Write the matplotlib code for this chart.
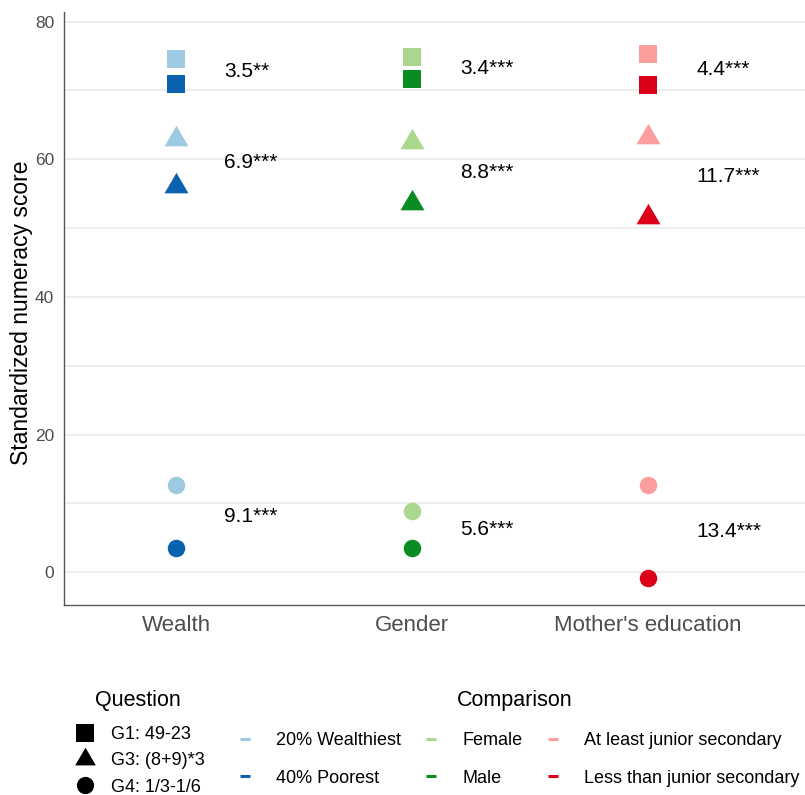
import numpy as np
import matplotlib.pyplot as plt
from matplotlib.lines import Line2D
from matplotlib.path import Path

plt.rcParams['font.family'] = ['Liberation Sans', 'DejaVu Sans']

# categories on the x axis
groups = ["Wealth", "Gender", "Mother's education"]
questions = ["G1: 49-23", "G3: (8+9)*3", "G4: 1/3-1/6"]

# scores per question (G1, G3, G4), advantaged / disadvantaged group
wealth_top = [74.6, 63.0, 12.6]
wealth_bottom = [71.0, 56.1, 3.5]
gender_top = [74.9, 62.5, 8.9]
gender_bottom = [71.6, 53.7, 3.45]
mother_top = [75.3, 63.3, 12.6]
mother_bottom = [70.8, 51.6, -0.85]

# gap labels
wealth_gap = ["3.5**", "6.9***", "9.1***"]
gender_gap = ["3.4***", "8.8***", "5.6***"]
mother_gap = ["4.4***", "11.7***", "13.4***"]

# legend labels
top_labels = ["20% Wealthiest", "Female", "At least junior secondary"]
bottom_labels = ["40% Poorest", "Male", "Less than junior secondary"]

light_cols = ["#9ECAE1", "#ABD78E", "#FC9E9E"]
dark_cols = ["#0A62AE", "#098C22", "#DC0018"]

# triangle with its centroid on the data point (like R's pch 17)
tri = Path([(0, 13.7), (12, -6.85), (-12, -6.85), (0, 13.7)],
           [Path.MOVETO, Path.LINETO, Path.LINETO, Path.CLOSEPOLY])
shapes = ['s', tri, 'o']
sizes = [13, 19.7, 12.6]
key_sizes = [12.6, 17.0, 12.4]

fig = plt.figure(figsize=(8.05, 7.95), dpi=100)
ax = fig.add_axes([64 / 805, 1 - 604.5 / 795, 741 / 805, 592.5 / 795])

x_pos = np.arange(1, len(groups) + 1)
tops = [wealth_top, gender_top, mother_top]
bottoms = [wealth_bottom, gender_bottom, mother_bottom]
gaps = [wealth_gap, gender_gap, mother_gap]

for i in range(len(groups)):
    for q in range(len(questions)):
        ax.plot(x_pos[i], tops[i][q], ls='none', marker=shapes[q], ms=sizes[q],
                color=light_cols[i], mew=0, zorder=3)
        ax.plot(x_pos[i], bottoms[i][q], ls='none', marker=shapes[q], ms=sizes[q],
                color=dark_cols[i], mew=0, zorder=3)
        mid = (tops[i][q] + bottoms[i][q]) / 2
        ax.text(x_pos[i] + 0.205, mid, gaps[i][q], ha='left', va='center',
                fontsize=15, color='black')

ax.set_xlim(0.525, 3.665)
ax.set_ylim(-4.7, 81.4)
ax.set_xticks(x_pos)
ax.set_xticklabels(groups)
ax.set_yticks(range(0, 81, 20))
ax.set_yticks(range(10, 80, 20), minor=True)
ax.grid(True, which='both', axis='y', color='#EBEBEB', lw=1.2)
ax.set_axisbelow(True)
ax.tick_params(axis='both', which='both', length=0, colors='#4D4D4D')
ax.tick_params(axis='y', labelsize=12.5, pad=7)
ax.tick_params(axis='x', labelsize=16, pad=7.5)
for s in ['top', 'right']:
    ax.spines[s].set_visible(False)
for s in ['left', 'bottom']:
    ax.spines[s].set_color('#555555')
    ax.spines[s].set_linewidth(1.0)

ax.set_ylabel("Standardized numeracy score", fontsize=16.5, color='black')
ax.yaxis.set_label_coords(-0.042, 0.493)

# legend titles
fig.text(138 / 805, 1 - 700.5 / 795, "Question", ha='center', va='center',
         fontsize=15.5)
fig.text(514.5 / 805, 1 - 700.5 / 795, "Comparison", ha='center', va='center',
         fontsize=15.5)

# legend: question shapes
q_handles = [Line2D([], [], ls='none', marker=shapes[q], ms=key_sizes[q],
                    color='black', mew=0) for q in range(len(questions))]
fig.legend(q_handles, questions, loc='upper left',
           bbox_to_anchor=(76 / 805, 1 - 726 / 795), frameon=False,
           fontsize=13, borderpad=0, borderaxespad=0,
           handlelength=1.0, handletextpad=0.95, labelspacing=0.52)

# legend: comparison colours
c_handles, c_labels = [], []
for i in range(len(groups)):
    c_handles.append(Line2D([], [], ls='none', marker='_', ms=7.5, mew=2.2,
                            color=light_cols[i]))
    c_labels.append(top_labels[i])
    c_handles.append(Line2D([], [], ls='none', marker='_', ms=7.5, mew=2.2,
                            color=dark_cols[i]))
    c_labels.append(bottom_labels[i])
fig.legend(c_handles, c_labels, loc='upper left', ncol=3,
           bbox_to_anchor=(236 / 805, 1 - 732 / 795), frameon=False,
           fontsize=13, borderpad=0, borderaxespad=0,
           handlelength=1.0, handletextpad=1.2, columnspacing=1.2,
           labelspacing=1.14)

fig.savefig("out.png", dpi=100)
